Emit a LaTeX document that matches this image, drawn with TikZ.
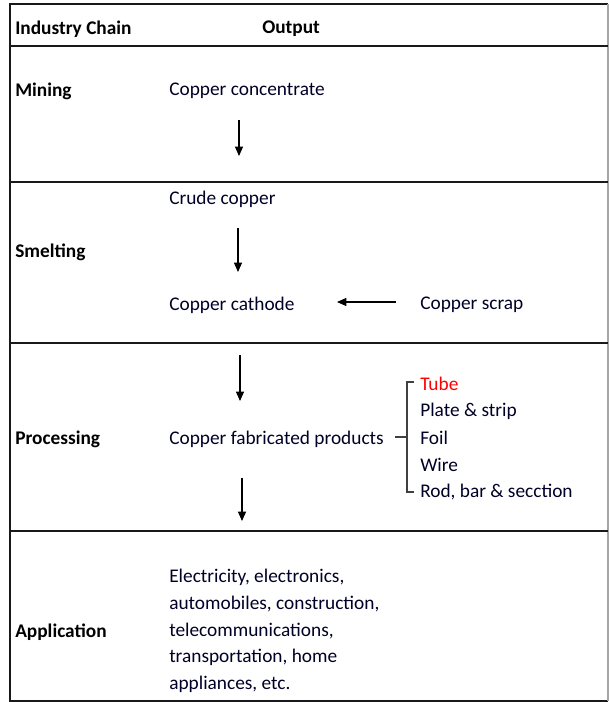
\documentclass[tikz,border=0pt]{standalone}
\usepackage{fontspec}
\setmainfont{Carlito}
\usetikzlibrary{arrows.meta}
\begin{document}
\begin{tikzpicture}[x=0.75pt,y=-0.75pt,
  txt/.style={anchor=west,inner sep=0pt,font=\fontsize{14.5}{20}\selectfont,text=black!85!blue},
  hdr/.style={txt,font=\fontsize{14.5}{20}\selectfont\bfseries,text=black},
  frame/.style={line width=1.6pt,black!90},
  flow/.style={-{Triangle[length=7pt,width=6pt]},line width=0.8pt},
  brace/.style={line width=0.8pt,black!75}]
\useasboundingbox (0,0) rectangle (609,702);
% table
\draw[frame] (608,4) -- (10,4) -- (10,701) -- (608,701);
\draw[line width=1pt,black!35] (608,4) -- (608,701);
\foreach \y in {46,182,343,531} \draw[frame] (10,\y) -- (608,\y);
% header
\node[hdr] (h1) at (15,29) {Industry Chain};
\node[hdr] (h2) at (262,29) {Output};
% mining
\node[hdr] (mining) at (15,91) {Mining};
\node[txt] (conc) at (169,91) {Copper concentrate};
\coordinate (m1) at (239,120);
\coordinate (m2) at (239,156);
\draw[flow] (m1) -- (m2);
% smelting
\node[hdr] (smelt) at (15,252) {Smelting};
\node[txt] (crude) at (169,199) {Crude copper};
\node[txt] (cath) at (169,305) {Copper cathode};
\node[txt] (scrap) at (420,305) {Copper scrap};
\coordinate (s1) at (238,228);
\coordinate (s2) at (238,272);
\draw[flow] (s1) -- (s2);
\coordinate (s3) at (396,302);
\coordinate (s4) at (337,302);
\draw[flow] (s3) -- (s4);
% processing
\node[hdr] (proc) at (15,439) {Processing};
\node[txt] (fab) at (169,439) {Copper fabricated products};
\coordinate (p1) at (240,355);
\coordinate (p2) at (240,401);
\draw[flow] (p1) -- (p2);
\coordinate (p3) at (242,478);
\coordinate (p4) at (242,521);
\draw[flow] (p3) -- (p4);
\node[txt,text=red] (tube) at (420,384) {Tube};
\node[txt] (plate) at (420,411) {Plate \& strip};
\node[txt] (foil) at (420,438) {Foil};
\node[txt] (wire) at (420,465) {Wire};
\node[txt] (rod) at (420,492) {Rod, bar \& secction};
\coordinate (b0) at (395,437);
\coordinate (b1) at (407,437);
\draw[brace] (b0) -- (b1);
\draw[brace] (414,382) -- (407,382) -- (407,492) -- (414,492);
% application
\node[hdr] (app) at (15,632) {Application};
\node[txt,anchor=north west,align=left,font=\fontsize{14.5}{20}\selectfont] (uses) at (169,569)
  {Electricity, electronics,\\automobiles, construction,\\telecommunications,\\transportation, home\\appliances, etc.};
\end{tikzpicture}
\end{document}
